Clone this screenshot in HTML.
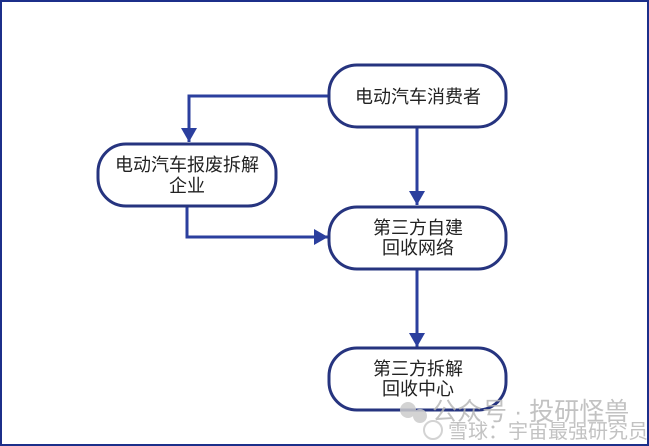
<!DOCTYPE html>
<html><head><meta charset="utf-8"><style>
html,body{margin:0;padding:0;background:#fff}
body{width:649px;height:446px;overflow:hidden;position:relative}
</style></head><body>
<svg width="649" height="446" viewBox="0 0 649 446" style="position:absolute;left:0;top:0">
<defs>
<marker id="b" markerWidth="14" markerHeight="16" refX="14" refY="8" orient="auto" markerUnits="userSpaceOnUse"><path d="M0,0 L14,8 L0,16 z" fill="#2b3f9e"/></marker></defs>
<rect x="1" y="1" width="647" height="444" fill="none" stroke="#1c2f8a" stroke-width="2"/>
<g fill="none" stroke="#2b3f9e" stroke-width="3">
<path d="M329,96 H189 V142" marker-end="url(#b)"/>
<path d="M417,128 V205" marker-end="url(#b)"/>
<path d="M187,207 V237 H328" marker-end="url(#b)"/>
<path d="M417,270 V347" marker-end="url(#b)"/>
</g>
<g fill="#fff" stroke="#26347f" stroke-width="3">
<rect x="329" y="65" width="177" height="62" rx="28"/>
<rect x="98" y="144" width="178" height="62" rx="28"/>
<rect x="329" y="207" width="177" height="62" rx="28"/>
<rect x="329" y="348" width="177" height="62" rx="28"/>
</g>
<g font-family="Liberation Sans,Noto Sans CJK SC,sans-serif" font-size="18" fill="#222" text-anchor="middle">
<text x="418" y="103">电动汽车消费者</text>
<text x="187" y="171">电动汽车报废拆解</text>
<text x="187" y="192">企业</text>
<text x="418" y="234">第三方自建</text>
<text x="418" y="254">回收网络</text>
<text x="418" y="375">第三方拆解</text>
<text x="418" y="395">回收中心</text>
</g>
<g font-family="Liberation Sans,Noto Sans CJK SC,sans-serif" fill="#b8b8b8" opacity="0.85">
<text x="432" y="420" font-size="25">公众号 · 投研怪兽</text>
<text x="448" y="438" font-size="20">雪球：宇宙最强研究员</text>
<circle cx="408" cy="410" r="8" fill="#ccc"/><circle cx="420" cy="416" r="7" fill="#ccc"/>
<circle cx="433" cy="430" r="9" fill="none" stroke="#ccc" stroke-width="2"/>
</g>
</svg>
</body></html>
